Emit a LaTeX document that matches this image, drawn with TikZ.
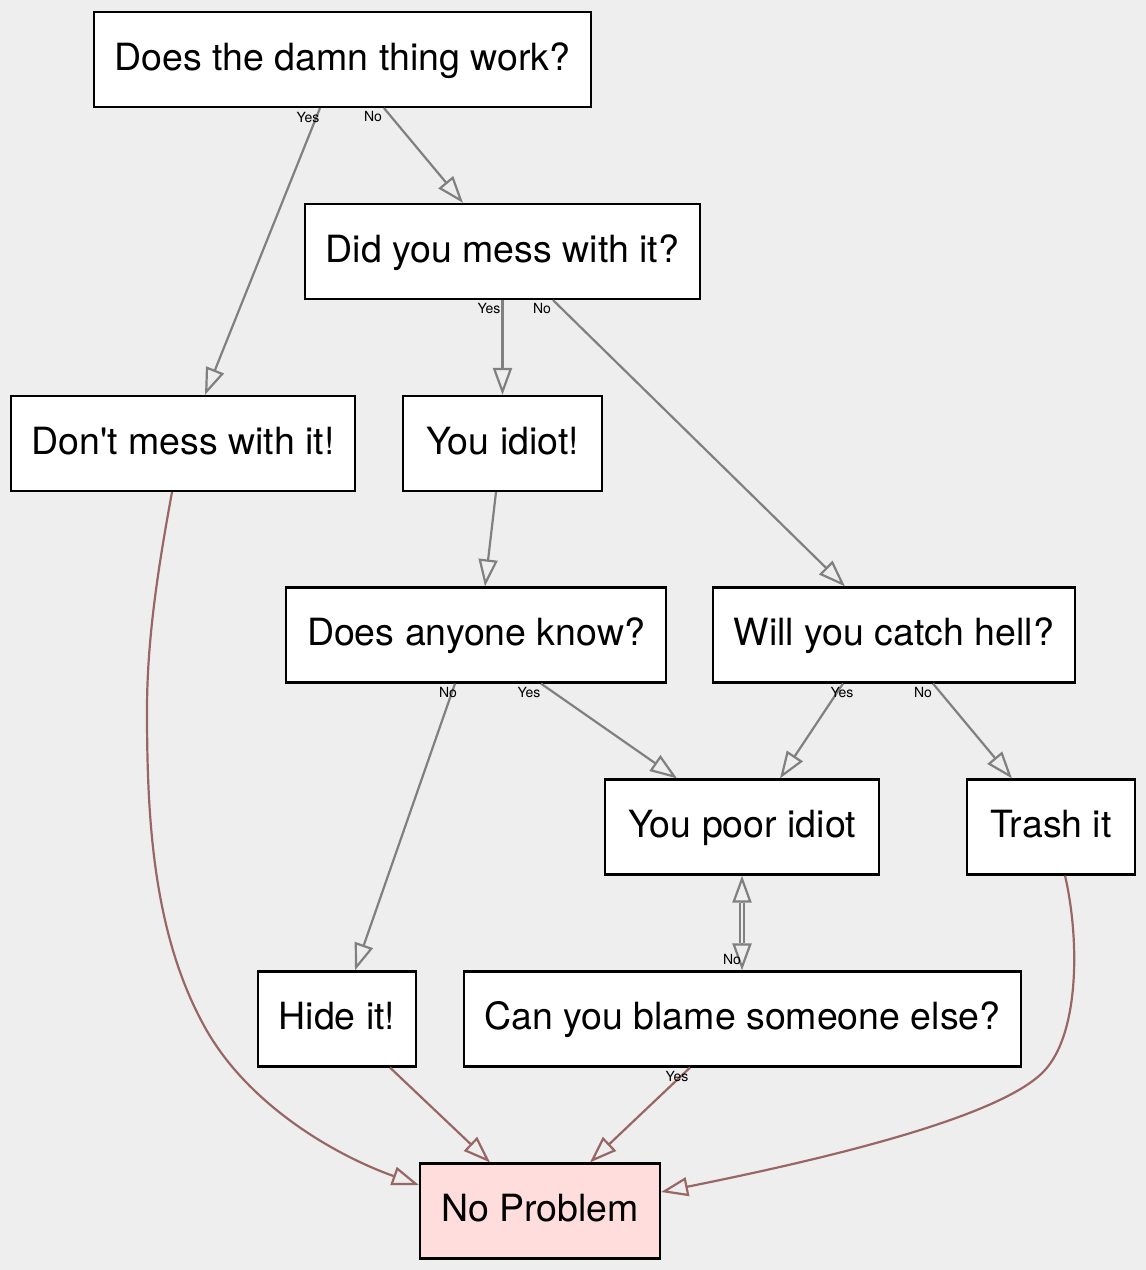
\documentclass[tikz,border=0pt]{standalone}
\usepackage{fontspec}
\setmainfont{TeX Gyre Heros}
\usetikzlibrary{arrows.meta}
\definecolor{bg}{HTML}{EEEEEE}
\definecolor{edgegray}{HTML}{808080}
\definecolor{edgered}{HTML}{996666}
\definecolor{pinkfill}{HTML}{FFDDDD}
\begin{document}
\begin{tikzpicture}[x=1pt,y=-1pt,
  box/.style={draw=black, line width=2.2pt, fill=white, minimum height=95pt, inner sep=0pt, text height=21.6pt, text depth=0pt, font=\fontsize{37.5}{44}\selectfont},
  lbl/.style={inner sep=0pt, font=\fontsize{14}{16}\selectfont},
  ge/.style={draw=edgegray, line width=2.2pt, -{Triangle[open, length=27pt, width=19pt]}},
  re/.style={ge, draw=edgered}]
\fill[bg] (0,0) rectangle (1146,1270);
\useasboundingbox (0,0) rectangle (1146,1270);

\node[box, minimum width=497pt] (n1) at (342.5,59.5) {Does the damn thing work?};
\node[box, minimum width=395pt] (n2) at (502.5,251.5) {Did you mess with it?};
\node[box, minimum width=344pt] (n3) at (183,443.5) {Don\textquotesingle t mess with it!};
\node[box, minimum width=199pt] (n4) at (502.5,443.5) {You idiot!};
\node[box, minimum width=380pt] (n5) at (476,635) {Does anyone know?};
\node[box, minimum width=362pt] (n6) at (894,635) {Will you catch hell?};
\node[box, minimum width=274pt] (n7) at (742,827) {You poor idiot};
\node[box, minimum width=168pt] (n8) at (1051,827) {Trash it};
\node[box, minimum width=158pt] (n9) at (337,1019) {Hide it!};
\node[box, minimum width=557pt] (n10) at (742.5,1019) {Can you blame someone else?};
\node[box, minimum width=240pt, fill=pinkfill] (n11) at (540,1211) {No Problem};

\draw[ge] ([xshift=-22.5pt]n1.south) -- ([xshift=22pt]n3.north);
\draw[ge] ([xshift=41.5pt]n1.south) -- ([xshift=-39.5pt]n2.north);
\draw[ge] (n2.south) -- (n4.north);
\draw[ge] ([xshift=50.5pt]n2.south) -- ([xshift=-49pt]n6.north);
\draw[ge] ([xshift=-6.5pt]n4.south) -- ([xshift=9pt]n5.north);
\draw[ge] ([xshift=-21pt]n5.south) -- ([xshift=18pt]n9.north);
\draw[ge] ([xshift=65pt]n5.south) -- ([xshift=-65pt]n7.north);
\draw[ge] ([xshift=-51pt]n6.south) -- ([xshift=38pt]n7.north);
\draw[ge] ([xshift=39pt]n6.south) -- ([xshift=-39pt]n8.north);

\draw[edgegray, line width=2pt, double=bg, double distance=2.5pt] ([yshift=-27pt]n7.south) -- ([xshift=-0.5pt,yshift=27pt]n10.north);
\draw[ge] ([yshift=-27pt]n7.south) -- (n7.south);
\draw[ge] ([xshift=-0.5pt,yshift=27pt]n10.north) -- ([xshift=-0.5pt]n10.north);

\draw[re] ([xshift=-11pt]n3.south) .. controls (159,563) and (147,637) .. (147,710)
  .. controls (147,817) and (152.5,936) .. (207,1031)
  .. controls (251,1107) and (337,1156) .. ([yshift=26pt]n11.west);
\draw[re] ([xshift=53pt]n9.south) -- ([xshift=-50pt]n11.north);
\draw[re] ([xshift=-52.5pt]n10.south) -- ([xshift=50pt]n11.north);
\draw[re] ([xshift=14pt]n8.south) .. controls (1080,940) and (1080,1040) .. (1040,1075)
  .. controls (990,1120) and (820,1160) .. ([yshift=19pt]n11.east);

\node[lbl] (l1) at (308,117) {Yes};
\node[lbl] (l2) at (373,116) {No};
\node[lbl] (l3) at (489,308) {Yes};
\node[lbl] (l4) at (542,308) {No};
\node[lbl] (l5) at (448,692) {No};
\node[lbl] (l6) at (529,692) {Yes};
\node[lbl] (l7) at (842,692) {Yes};
\node[lbl] (l8) at (923,692) {No};
\node[lbl] (l9) at (732,959) {No};
\node[lbl] (l10) at (677,1076) {Yes};
\end{tikzpicture}
\end{document}
